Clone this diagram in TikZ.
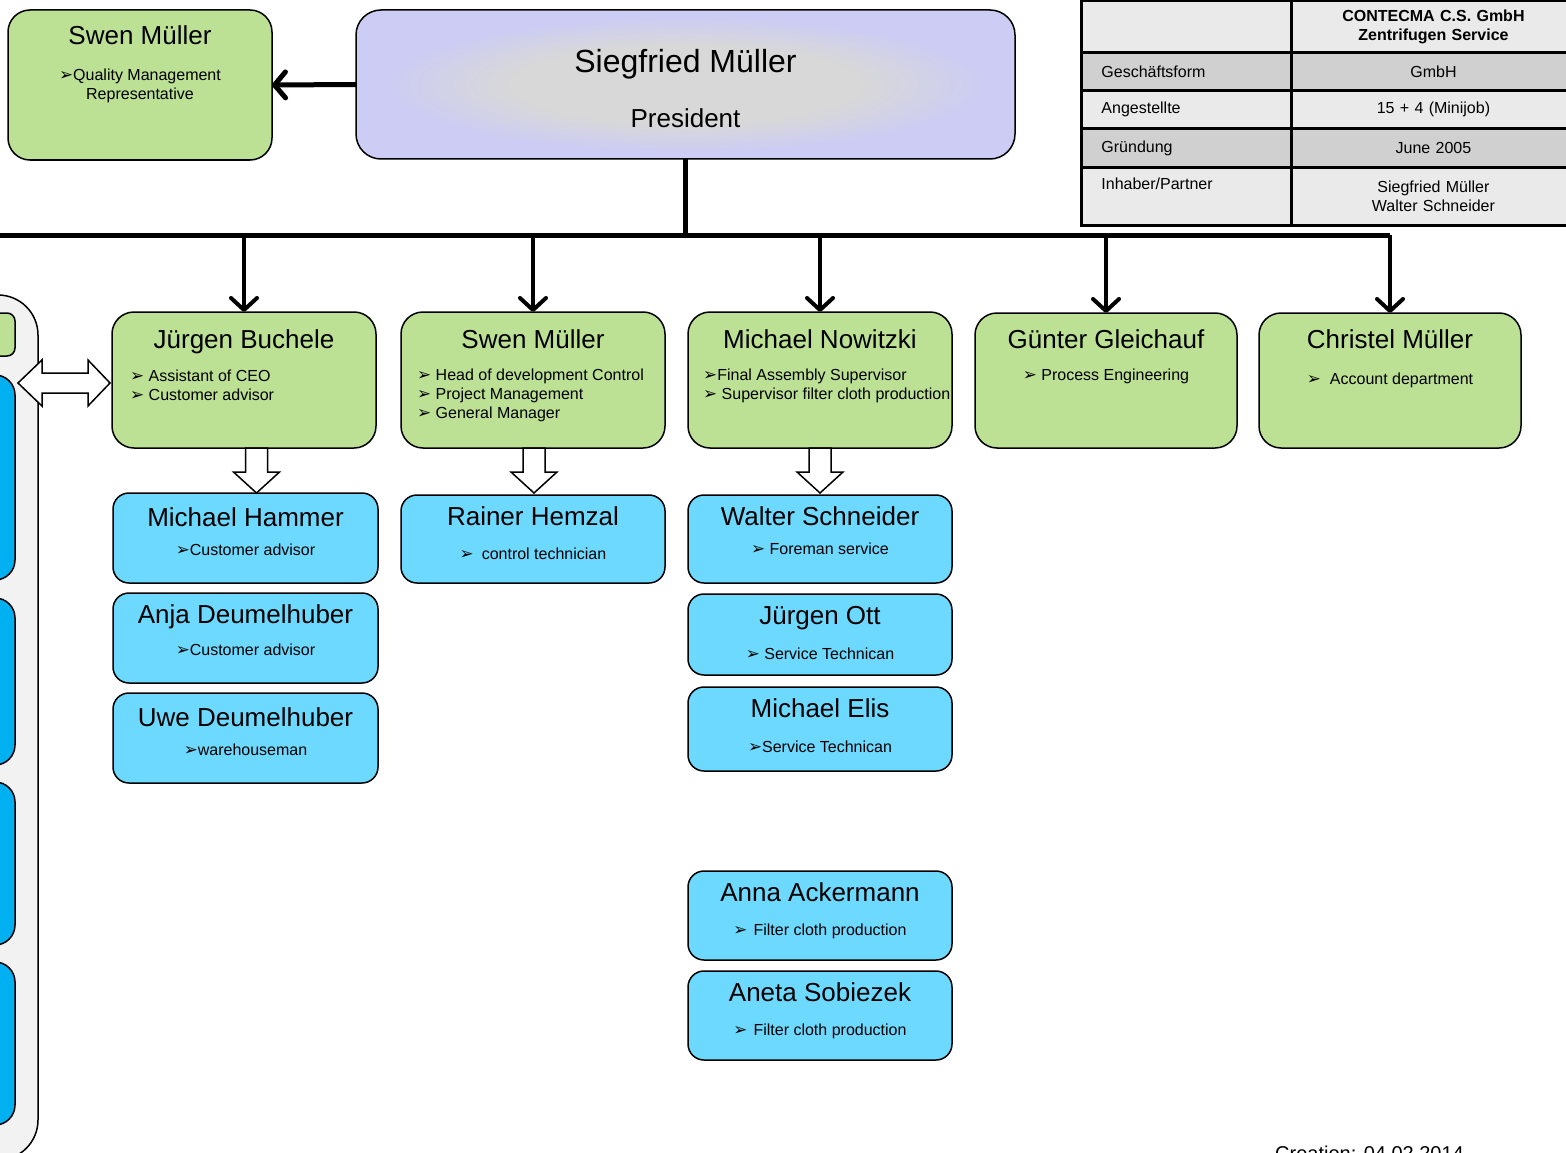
\documentclass[tikz,border=0pt]{standalone}
\usepackage{fontspec}
\setmainfont{Liberation Sans}
\newfontfamily\arrowfont[Scale=1.05]{DejaVu Sans}
\usepackage{tikz}
\usetikzlibrary{arrows.meta, calc, matrix, positioning}
\definecolor{leadgreen}{RGB}{188,224,148}
\definecolor{staffblue}{RGB}{110,217,255}
\definecolor{teamblue}{RGB}{0,176,240}
\definecolor{panelgray}{RGB}{242,242,242}
\definecolor{presblue}{RGB}{204,204,245}
\definecolor{presgray}{RGB}{216,216,216}
\definecolor{tablight}{RGB}{234,234,234}
\definecolor{tabdark}{RGB}{208,208,208}
\pgfdeclareradialshading{presshade}{\pgfpoint{0bp}{0bp}}{color(0bp)=(presgray); color(13bp)=(presgray);
    color(23bp)=(presblue); color(50bp)=(presblue)}
\newcommand{\bul}{{\arrowfont\char"27A2}}
\newcommand{\namefont}{\fontsize{26}{30}\selectfont}
\newcommand{\dutyfont}{\fontsize{16}{19}\selectfont}
\newcommand{\tabbold}{\fontsize{16}{19}\selectfont\bfseries}

\tikzset{
    lead/.style={draw, line width=1.5pt, fill=leadgreen, rounded corners=22pt,
        minimum width=264pt, minimum height=136pt, inner sep=0pt, outer sep=0pt},
    staff/.style={draw, line width=1.5pt, fill=staffblue, rounded corners=16pt,
        minimum width=265pt, inner sep=0pt, outer sep=0pt},
    teambox/.style={draw, line width=1.5pt, fill=teamblue, rounded corners=20pt,
        minimum width=115pt, inner sep=0pt, outer sep=0pt},
    who/.style={font=\namefont, anchor=base, inner sep=0pt},
    duty/.style={font=\dutyfont, anchor=north, align=center, inner sep=0pt},
    dutylist/.style={font=\dutyfont, anchor=north west, align=left, inner sep=0pt},
    bus/.style={line width=5pt},
    feed/.style={line width=4pt, -{Straight Barb[length=12pt, width=26pt, round]}},
    hollow/.style={draw, fill=white, line width=1.5pt, line join=miter},
    downblock/.pic={
        \draw[hollow] (-11,0) -- (11,0) -- (11,24) -- (23,24) -- (0,45)
            -- (-23,24) -- (-11,24) -- cycle;
    },
}

\begin{document}
\begin{tikzpicture}[x=1pt, y=-1pt]
\useasboundingbox (0,0) rectangle (1566,1153);
\clip (0,0) rectangle (1566,1153);

\node[draw, line width=1.5pt, fill=panelgray, rounded corners=40pt, minimum width=140pt,
    minimum height=865pt, inner sep=0pt, outer sep=0pt] (team) at (-32,727.5) {};
\node[teambox, fill=leadgreen, rounded corners=8pt, minimum height=43pt] (team-head) at (-42.5,334.5) {};
\node[teambox, minimum height=205pt] (team-a) at (-42.5,477.5) {};
\node[teambox, minimum height=167pt] (team-b) at (-42.5,681.5) {};
\node[teambox, minimum height=163pt] (team-c) at (-42.5,863.5) {};
\node[teambox, minimum height=163pt] (team-d) at (-42.5,1043.5) {};

\node[lead, minimum height=150pt] (qm) at (140,85) {};
\node[who] (qm-who) at ([yshift=-35pt]qm.north) {Swen Müller};
\node[duty] (qm-duty) at ([yshift=-59pt]qm.north) {\bul Quality Management\\Representative};

\node[draw, line width=1.5pt, rounded corners=25pt, shade, shading=presshade,
    minimum width=659pt, minimum height=149pt, inner sep=0pt, outer sep=0pt] (pres) at (685.5,84.5) {};
\node[who, font=\fontsize{32}{36}\selectfont] (pres-who) at ([yshift=-63pt]pres.north) {Siegfried Müller};
\node[who] (pres-role) at ([yshift=-118pt]pres.north) {President};

\node[lead] (buchele) at (244,380) {};
\node[who] (buchele-who) at ([yshift=-36pt]buchele.north) {Jürgen Buchele};
\node[dutylist] (buchele-duty) at ([xshift=18pt, yshift=-58pt]buchele.north west)
    {\bul\ Assistant of CEO\\\bul\ Customer advisor};

\node[lead] (swen) at (533,380) {};
\node[who] (swen-who) at ([yshift=-36pt]swen.north) {Swen Müller};
\node[dutylist] (swen-duty) at ([xshift=16pt, yshift=-57pt]swen.north west)
    {\bul\ Head of development Control\\\bul\ Project Management\\\bul\ General Manager};

\node[lead] (nowitzki) at (820,380) {};
\node[who] (nowitzki-who) at ([yshift=-36pt]nowitzki.north) {Michael Nowitzki};
\node[dutylist] (nowitzki-duty) at ([xshift=15pt, yshift=-57pt]nowitzki.north west)
    {\bul Final Assembly Supervisor\\\bul\ Supervisor filter cloth production};

\node[lead, minimum width=262pt, minimum height=135pt] (gleichauf) at (1106,380.5) {};
\node[who] (gleichauf-who) at ([yshift=-35pt]gleichauf.north) {Günter Gleichauf};
\node[duty] (gleichauf-duty) at ([yshift=-56pt]gleichauf.north) {\bul\ Process Engineering};

\node[lead, minimum width=262pt, minimum height=135pt] (christel) at (1390,380.5) {};
\node[who] (christel-who) at ([yshift=-35pt]christel.north) {Christel Müller};
\node[duty] (christel-duty) at ([yshift=-60pt]christel.north) {\bul\hspace{9pt}Account department};

\node[staff, minimum height=90pt] (hammer) at (245.5,538) {};
\node[who] (hammer-who) at ([yshift=-33pt]hammer.north) {Michael Hammer};
\node[duty] (hammer-duty) at ([yshift=-51pt]hammer.north) {\bul Customer advisor};

\node[staff, minimum height=90pt, below=10pt of hammer] (anja) {};
\node[who] (anja-who) at ([yshift=-30pt]anja.north) {Anja Deumelhuber};
\node[duty] (anja-duty) at ([yshift=-51pt]anja.north) {\bul Customer advisor};

\node[staff, minimum height=90pt, below=10pt of anja] (uwe) {};
\node[who] (uwe-who) at ([yshift=-33pt]uwe.north) {Uwe Deumelhuber};
\node[duty] (uwe-duty) at ([yshift=-51pt]uwe.north) {\bul warehouseman};

\node[staff, minimum width=264pt, minimum height=88pt] (hemzal) at (533,539) {};
\node[who] (hemzal-who) at ([yshift=-30pt]hemzal.north) {Rainer Hemzal};
\node[duty] (hemzal-duty) at ([yshift=-53pt]hemzal.north) {\bul\hspace{8pt}control technician};

\node[staff, minimum width=264pt, minimum height=88pt] (schneider) at (820,539) {};
\node[who] (schneider-who) at ([yshift=-30pt]schneider.north) {Walter Schneider};
\node[duty] (schneider-duty) at ([yshift=-48pt]schneider.north) {\bul\ Foreman service};

\node[staff, minimum width=264pt, minimum height=81pt, below=11pt of schneider] (ott) {};
\node[who] (ott-who) at ([yshift=-30pt]ott.north) {Jürgen Ott};
\node[duty] (ott-duty) at ([yshift=-54pt]ott.north) {\bul\ Service Technican};

\node[staff, minimum width=264pt, minimum height=84pt, below=12pt of ott] (elis) {};
\node[who] (elis-who) at ([yshift=-30pt]elis.north) {Michael Elis};
\node[duty] (elis-duty) at ([yshift=-54pt]elis.north) {\bul Service Technican};

\node[staff, minimum width=264pt, minimum height=89pt] (ackermann) at (820,915.5) {};
\node[who] (ackermann-who) at ([yshift=-30pt]ackermann.north) {Anna Ackermann};
\node[duty] (ackermann-duty) at ([yshift=-53pt]ackermann.north) {\bul\hspace{6pt}Filter cloth production};

\node[staff, minimum width=264pt, minimum height=89pt, below=11pt of ackermann] (sobiezek) {};
\node[who] (sobiezek-who) at ([yshift=-30pt]sobiezek.north) {Aneta Sobiezek};
\node[duty] (sobiezek-duty) at ([yshift=-53pt]sobiezek.north) {\bul\hspace{6pt}Filter cloth production};

\matrix (facts) [
    matrix of nodes,
    nodes in empty cells,
    anchor=north west,
    inner sep=0pt,
    row sep=-2.5pt,
    column sep=-2.5pt,
    nodes={draw, line width=2.5pt, inner ysep=0pt, outer sep=0pt, anchor=center, font=\dutyfont},
    column 1/.style={nodes={text width=170pt, inner xsep=20pt, align=left}},
    column 2/.style={nodes={text width=284pt, inner xsep=0pt, align=center}},
    row 1/.style={nodes={minimum height=52pt, fill=tablight}},
    row 2/.style={nodes={minimum height=38pt, fill=tabdark}},
    row 3/.style={nodes={minimum height=38pt, fill=tablight}},
    row 4/.style={nodes={minimum height=39pt, fill=tabdark}},
    row 5/.style={nodes={minimum height=58pt, fill=tablight}},
] at (1080,-1) {
 & |[font=\tabbold]| {CONTECMA C.S. GmbH\\Zentrifugen Service} \\
Geschäftsform & GmbH \\
Angestellte & 15 + 4 (Minijob) \\
Gründung & June 2005 \\
{Inhaber/Partner\\\strut} & {Siegfried Müller\\Walter Schneider} \\
};

\node[anchor=north west, inner sep=0pt, font=\fontsize{20}{24}\selectfont] (stamp) at (1275,1146) {Creation: 04.02.2014};

\draw[bus, -{Straight Barb[length=11pt, width=26pt, round]}] (pres.west) -- (qm.east);
\draw[bus] (pres.south) -- ++(0,76) coordinate (hub);
\coordinate (busleft) at (-5,235);
\draw[bus] (busleft) -- (christel.north |- busleft);
\draw[feed] (buchele.north |- hub) -- (buchele.north);
\draw[feed] (swen.north |- hub) -- (swen.north);
\draw[feed] (nowitzki.north |- hub) -- (nowitzki.north);
\draw[feed] (gleichauf.north |- hub) -- (gleichauf.north);
\draw[feed] (christel.north |- hub) -- (christel.north);

\pic at ([xshift=12.5pt]buchele.south) {downblock};
\pic at ([xshift=1pt]swen.south) {downblock};
\pic at (nowitzki.south) {downblock};

\draw[hollow] ([xshift=-2pt, yshift=-3pt]buchele.west) -- ++(-22,-23) -- ++(0,13) -- ++(-46,0)
    -- ++(0,-13) -- ++(-24,23) -- ++(24,23) -- ++(0,-13) -- ++(46,0) -- ++(0,13) -- cycle;
\end{tikzpicture}
\end{document}
